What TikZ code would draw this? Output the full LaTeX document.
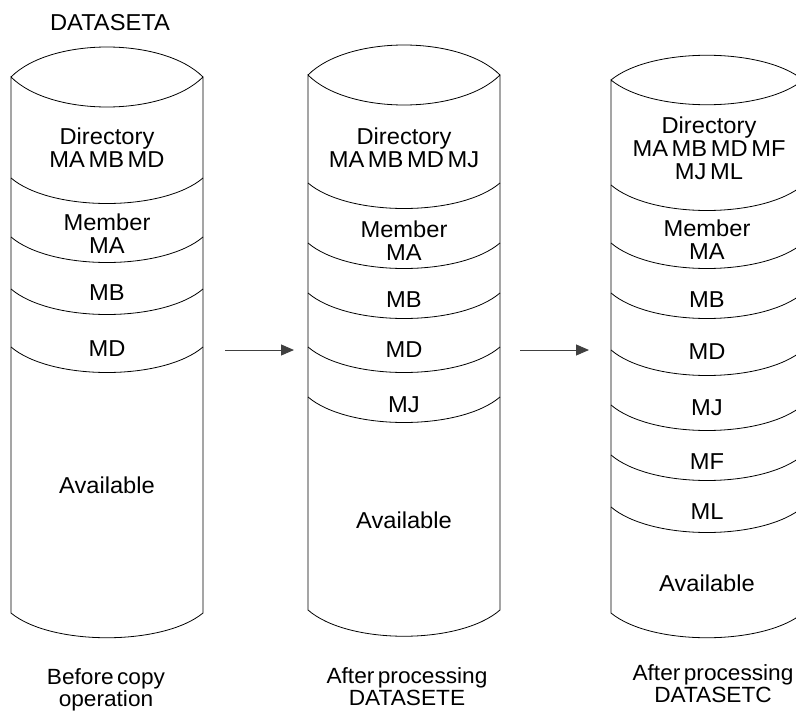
\documentclass[tikz,border=0pt]{standalone}
\usepackage{fontspec}
\setmainfont{Liberation Sans}[FakeStretch=1.03,WordSpace=0.55]
\usetikzlibrary{arrows.meta}
\tikzstyle{txt} = [align=center, inner sep=0pt, font=\fontsize{23}{23}\selectfont]
\tikzstyle{caption} = [align=center, inner sep=0pt, font=\fontsize{22}{22}\selectfont]
\tikzstyle{disk} = [line width=0.8pt, draw=black]
\tikzstyle{arrow} = [line width=1pt, draw=black!75, -{Triangle[length=13pt,width=11pt]}]

\begin{document}
\begin{tikzpicture}[x=1pt, y=-1pt]
\useasboundingbox (0,0) rectangle (796,712);

% DATASETA before copy
\draw [disk] (11,77) .. controls (51,37) and (163,37) .. (203,77) .. controls (163,117) and (51,117) .. (11,77) -- (11,613) .. controls (51,646) and (163,646) .. (203,613) -- (203,77);
\foreach \y in {178,237,289,347}
  \draw [disk] (11,\y) .. controls (51,\y+34) and (163,\y+34) .. (203,\y);

% DATASETE
\draw [disk] (308,75) .. controls (348,35) and (460,35) .. (500,75) .. controls (460,115) and (348,115) .. (308,75) -- (308,610) .. controls (348,645) and (460,645) .. (500,610) -- (500,75);
\foreach \y in {183,243,293,347,397}
  \draw [disk] (308,\y) .. controls (348,\y+34) and (460,\y+34) .. (500,\y);

% DATASETC
\draw [disk] (611,80) .. controls (651,47) and (763,47) .. (803,80) .. controls (763,113) and (651,113) .. (611,80) -- (611,613) .. controls (651,646) and (763,646) .. (803,613) -- (803,80);
\foreach \y in {185,243,293,350,405,455,507}
  \draw [disk] (611,\y) .. controls (651,\y+34) and (763,\y+34) .. (803,\y);

\node (nameA) [txt] at (110,23) {DATASETA};

\node (dirA) [txt] at (107,148) {Directory\\MA MB MD};
\node (maA) [txt] at (107,234) {Member\\MA};
\node (mbA) [txt] at (107,293) {MB};
\node (mdA) [txt] at (107,349) {MD};
\node (avA) [txt] at (107,485) {Available};

\node (dirE) [txt] at (404,148) {Directory\\MA MB MD MJ};
\node (maE) [txt] at (404,241) {Member\\MA};
\node (mbE) [txt] at (404,300) {MB};
\node (mdE) [txt] at (404,350) {MD};
\node (mjE) [txt] at (404,405) {MJ};
\node (avE) [txt] at (404,520) {Available};

\node (dirC) [txt] at (709,148) {Directory\\MA MB MD MF\\MJ ML};
\node (maC) [txt] at (707,240) {Member\\MA};
\node (mbC) [txt] at (707,300) {MB};
\node (mdC) [txt] at (707,352) {MD};
\node (mjC) [txt] at (707,408) {MJ};
\node (mfC) [txt] at (707,462) {MF};
\node (mlC) [txt] at (707,512) {ML};
\node (avC) [txt] at (707,583) {Available};

\node (capA) [caption] at (106,690) {Before copy\\operation};
\node (capE) [caption] at (407,687) {After processing\\DATASETE};
\node (capC) [caption] at (713,684) {After processing\\DATASETC};

\coordinate (p1) at (225,350);
\coordinate (p2) at (294,350);
\coordinate (p3) at (520,350);
\coordinate (p4) at (589,350);

\draw [arrow](p1) -- (p2);
\draw [arrow](p3) -- (p4);
\end{tikzpicture}
\end{document}
